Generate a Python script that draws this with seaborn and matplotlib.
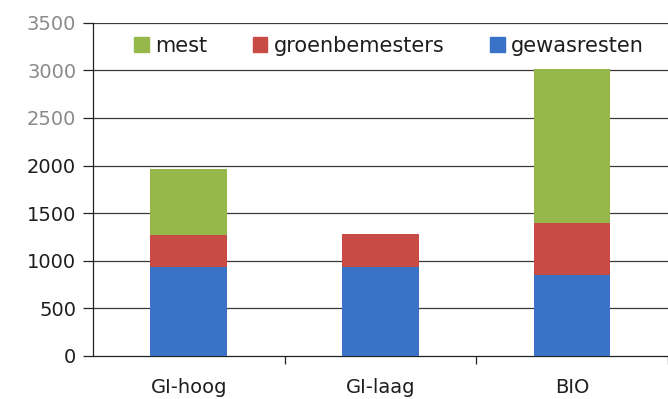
import matplotlib
matplotlib.use("Agg")
import matplotlib.pyplot as plt
import seaborn as sns
import pandas as pd
import numpy as np
from matplotlib.patches import Patch

# Stacked components per system
categories = ["GI-hoog", "GI-laag", "BIO"]
gewasresten = [935, 935, 845]
groenbemesters = [340, 345, 550]
mest = [690, 0, 1615]
yticks = [0, 500, 1000, 1500, 2000, 2500, 3000, 3500]

colors = {"mest": "#96B74A", "groenbemesters": "#C84B45", "gewasresten": "#3A72C8"}

sns.set_style("white")
plt.rcParams["font.family"] = ["DejaVu Sans"]

fig = plt.figure(figsize=(6.68, 3.99), dpi=100)
ax = fig.add_axes([0.139, 0.108, 0.861, 0.835])

base = np.array(gewasresten)
mid = base + np.array(groenbemesters)
top = mid + np.array(mest)

df = pd.DataFrame({"cat": categories, "top": top, "mid": mid, "base": base})

# Draw cumulative heights back to front to form the stacks
for col, key in [("top", "mest"), ("mid", "groenbemesters"), ("base", "gewasresten")]:
    sns.barplot(data=df, x="cat", y=col, color=colors[key], width=0.4,
                saturation=1, linewidth=0, edgecolor="none", ax=ax, zorder=3)

ax.set_xlim(-0.5, 2.5)
ax.set_ylim(0, 3500)
ax.set_yticks(yticks)
ax.set_xlabel("")
ax.set_ylabel("")

for y in yticks[1:]:
    ax.axhline(y, color="#3a3a3a", lw=0.9, zorder=1)

for s in ["top", "right"]:
    ax.spines[s].set_visible(False)
for s in ["left", "bottom"]:
    ax.spines[s].set_color("#222222")
    ax.spines[s].set_linewidth(0.9)

ax.tick_params(axis="y", length=7, width=0.9, color="#222222", pad=5,
               labelsize=14, labelcolor="#1e1e1e", left=True)
for lbl in ax.get_yticklabels():
    if lbl.get_text() in ("2500", "3000", "3500"):
        lbl.set_color("#8a8a8a")

ax.tick_params(axis="x", which="major", length=0, pad=16, labelsize=14,
               labelcolor="#1e1e1e")
ax.set_xticks([0.5, 1.5, 2.5], minor=True)
ax.tick_params(axis="x", which="minor", length=6, width=0.9, color="#222222",
               bottom=True)

handles = [Patch(color=colors[k]) for k in ["mest", "groenbemesters", "gewasresten"]]
leg = ax.legend(handles, ["mest", "groenbemesters", "gewasresten"],
                loc="center", bbox_to_anchor=(0.515, 0.93), ncol=3,
                frameon=False, fontsize=15, handlelength=0.7, handleheight=0.7,
                handletextpad=0.3, columnspacing=2.2)
for t in leg.get_texts():
    t.set_color("#1e1e1e")

fig.savefig("out.png", dpi=100)
